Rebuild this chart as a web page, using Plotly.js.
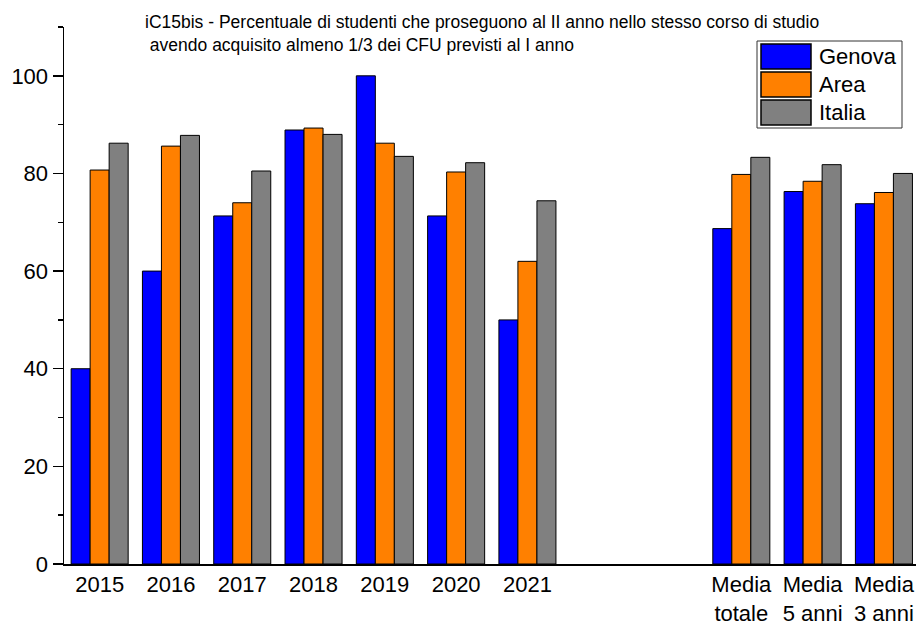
<!DOCTYPE html>
<html>
<head>
<meta charset="utf-8">
<script src="https://cdn.plot.ly/plotly-3.0.1.min.js"></script>
<style>
  html, body { margin: 0; padding: 0; background: #fff; }
  #chart { width: 916px; height: 628px; }
</style>
</head>
<body>
<div id="chart"></div>
<script>
// Categories (two blank slots separate the years from the averages)
var categories = ["2015", "2016", "2017", "2018", "2019", "2020", "2021", " ", "  ",
                  "Media<br>totale", "Media<br>5 anni", "Media<br>3 anni"];

// Values (null = empty slot)
var genova = [40.0, 60.0, 71.3, 88.9, 100.0, 71.3, 50.0, null, null, 68.7, 76.3, 73.8];
var area   = [80.7, 85.6, 74.0, 89.3, 86.2, 80.3, 62.0, null, null, 79.8, 78.4, 76.1];
var italia = [86.2, 87.8, 80.5, 88.0, 83.5, 82.2, 74.4, null, null, 83.3, 81.8, 80.0];

var seriesNames = ["Genova", "Area", "Italia"];
var seriesValues = [genova, area, italia];
var seriesColors = ["#0000FF", "#FF8000", "#808080"];

var FONT = "Liberation Sans, Arial, Helvetica, sans-serif";

// Plot area in pixels
var W = 916, H = 628;
var mL = 64, mR = 0, mT = 27, mB = 64;
function px2x(px) { return (px - mL) / (W - mL - mR); }
function px2y(py) { return (H - mB - py) / (H - mT - mB); }

var data = seriesNames.map(function (name, i) {
    return {
        x: categories,
        y: seriesValues[i],
        name: name,
        type: "bar",
        marker: { color: seriesColors[i], line: { color: "#000", width: 1 } },
        showlegend: false
    };
});

// Hand-made legend (big swatches like the original)
var shapes = [{
    type: "rect", xref: "paper", yref: "paper",
    x0: px2x(757), x1: px2x(902), y0: px2y(128), y1: px2y(41),
    line: { color: "#333", width: 1 }, fillcolor: "#fff"
}];
var annotations = [];
var rowTop = [44, 72, 100];
seriesNames.forEach(function (name, i) {
    shapes.push({
        type: "rect", xref: "paper", yref: "paper",
        x0: px2x(761), x1: px2x(811), y0: px2y(rowTop[i] + 25), y1: px2y(rowTop[i]),
        line: { color: "#000", width: 1.5 }, fillcolor: seriesColors[i]
    });
    annotations.push({
        xref: "paper", yref: "paper",
        x: px2x(817), y: px2y(rowTop[i] + 12.5),
        xanchor: "left", yanchor: "middle",
        text: name, showarrow: false,
        font: { family: FONT, size: 22, color: "#000" }
    });
});

var layout = {
    width: W,
    height: H,
    margin: { l: mL, r: mR, t: mT, b: mB },
    paper_bgcolor: "#fff",
    plot_bgcolor: "#fff",
    font: { family: FONT, color: "#000" },
    title: {
        text: "iC15bis - Percentuale di studenti che proseguono al II anno nello stesso corso di studio<br> avendo acquisito almeno 1/3 dei CFU previsti al I anno",
        xref: "container", yref: "container",
        x: 145 / W, xanchor: "left",
        y: 1 - 28 / H, yanchor: "top",
        font: { family: FONT, size: 17.5, color: "#000" }
    },
    barmode: "group",
    bargap: 0.2,
    bargroupgap: 0,
    xaxis: {
        type: "category",
        range: [-0.5, 11.45],
        showline: true, linecolor: "#000", linewidth: 2,
        ticks: "", showgrid: false, zeroline: false,
        tickfont: { family: FONT, size: 22, color: "#000" },
        fixedrange: true
    },
    yaxis: {
        range: [0, 110],
        tickvals: [0, 20, 40, 60, 80, 100],
        showline: true, linecolor: "#000", linewidth: 1.5,
        ticks: "outside", ticklen: 10, tickwidth: 1.5, tickcolor: "#000",
        minor: { tickvals: [10, 30, 50, 70, 90, 110], ticks: "outside", ticklen: 5, tickwidth: 1.5, tickcolor: "#000", showgrid: false },
        showgrid: false, zeroline: false,
        tickfont: { family: FONT, size: 22, color: "#000" },
        fixedrange: true
    },
    shapes: shapes,
    annotations: annotations
};

Plotly.newPlot("chart", data, layout, { displayModeBar: false, staticPlot: true });
</script>
</body>
</html>
